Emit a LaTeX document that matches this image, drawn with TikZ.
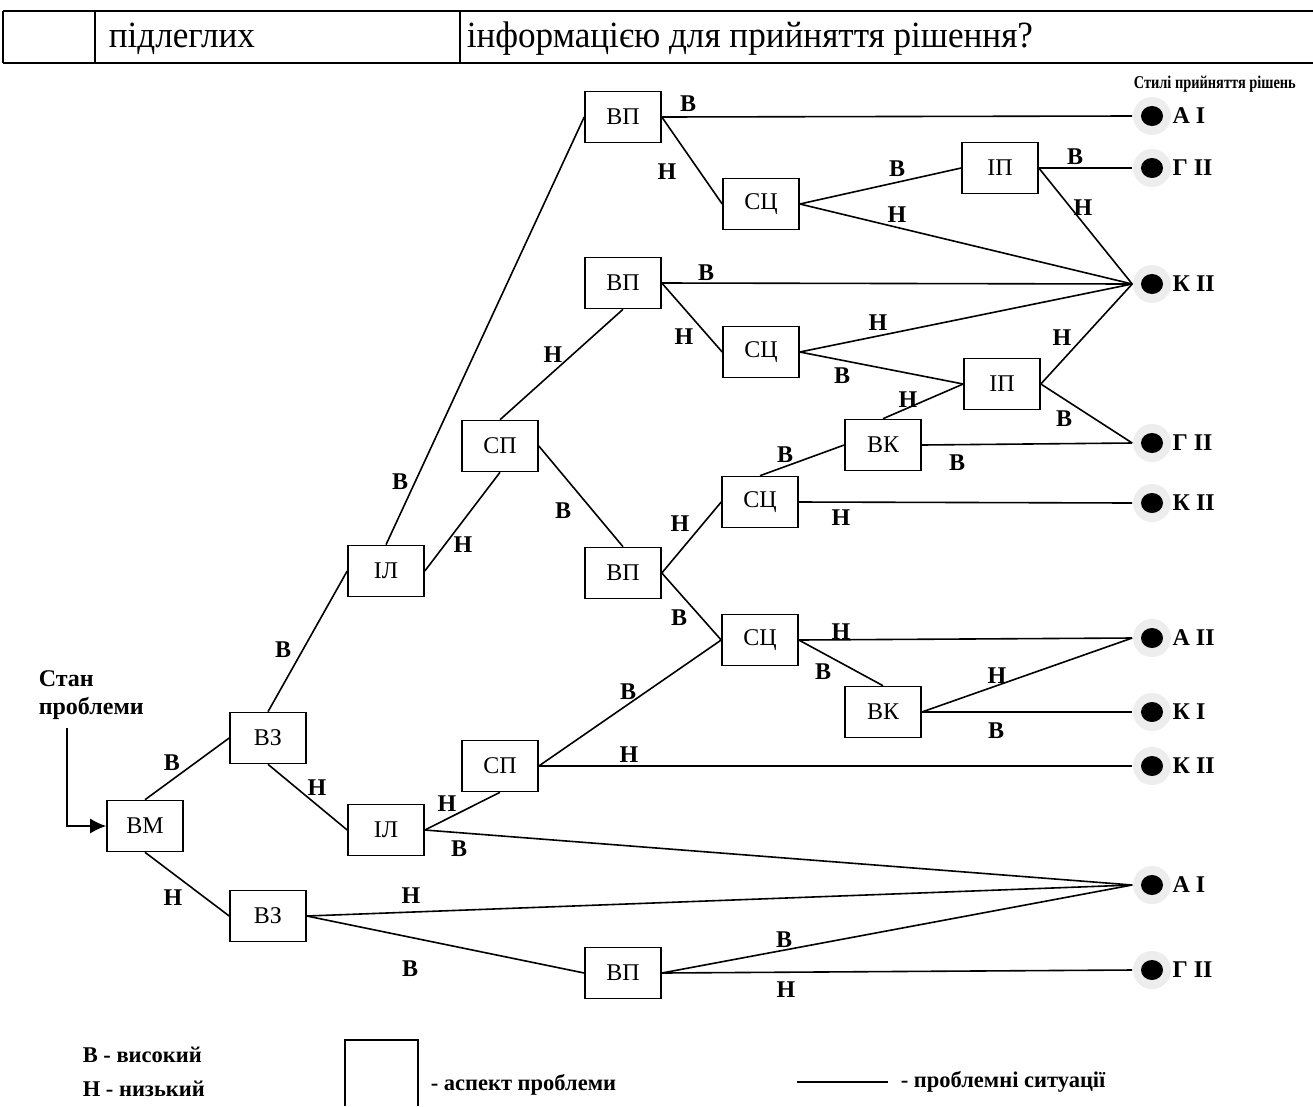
\documentclass[tikz,border=0pt]{standalone}
\usepackage{fontspec}
\setmainfont{Liberation Serif}
\newfontfamily\narrowfont{Liberation Serif}[FakeStretch=0.8]
\newfontfamily\cellfont{Liberation Serif}[FakeStretch=0.95]
\usetikzlibrary{arrows.meta}
\tikzset{
    x=1pt,
    y=-1pt,
    block/.style = {
        draw,
        shape=rectangle,
        minimum height=51pt,
        minimum width=76pt,
        inner sep=0pt,
        line width=1.6pt,
        font=\fontsize{24}{28}\selectfont
    },
    lbl/.style = {
        inner sep=0pt,
        font=\fontsize{24}{28}\bfseries\selectfont
    },
    outcome/.style = {
        shape=circle,
        fill=black!7,
        minimum size=38pt,
        inner sep=0pt,
        path picture={\fill[black] (path picture bounding box.center) ellipse (11pt and 10pt);}
    },
    endtext/.style = {
        inner sep=0pt,
        font=\fontsize{24}{28}\bfseries\selectfont
    },
    legtext/.style = {
        anchor=west,
        inner sep=0pt,
        font=\fontsize{22.5}{26}\bfseries\selectfont
    },
    celltext/.style = {
        anchor=base west,
        inner sep=0pt,
        font=\cellfont\fontsize{37}{42}\selectfont
    },
    edge/.style = {line width=1.6pt},
    >={Latex[length=16pt,width=15pt]},
}

\begin{document}
\begin{tikzpicture}[edge]
                \useasboundingbox (0,0) rectangle (1313,1106);

                % table row
                \path[draw, line width=2.5pt] (3,11) -- (1313,11);
                \path[draw, line width=2.5pt] (3,63) -- (1313,63);
                \path[draw, line width=2pt] (3,11) -- (3,63);
                \path[draw, line width=2pt] (95,11) -- (95,63);
                \path[draw, line width=2pt] (460,11) -- (460,63);
                \node[celltext] (cellb) at (108,47) {підлеглих};
                \node[celltext] (cellc) at (466,47) {інформацією для прийняття рішення?};

                \node[block] (vm) at (145,826) {ВМ};
                \node[block] (vz1) at (268,738) {ВЗ};
                \node[block] (vz2) at (268,916) {ВЗ};
                \node[block] (il1) at (386,571) {ІЛ};
                \node[block] (il2) at (386,830) {ІЛ};
                \node[block] (sp1) at (500,446) {СП};
                \node[block] (sp2) at (500,766) {СП};
                \node[block] (vp1) at (623,117) {ВП};
                \node[block] (vp2) at (623,283) {ВП};
                \node[block] (vp3) at (623,573) {ВП};
                \node[block] (vp4) at (623,973) {ВП};
                \node[block] (sc1) at (761,204) {СЦ};
                \node[block] (sc2) at (761,352) {СЦ};
                \node[block] (sc3) at (760,502) {СЦ};
                \node[block] (sc4) at (760,640) {СЦ};
                \node[block] (ip1) at (1000,168) {ІП};
                \node[block] (ip2) at (1002,384) {ІП};
                \node[block] (vk1) at (883,445) {ВК};
                \node[block] (vk2) at (883,712) {ВК};

                % decision styles
                \node[inner sep=0pt, anchor=west, font=\narrowfont\fontsize{18}{21}\bfseries\selectfont]
                (styles) at (1133,84) {Стилі прийняття рішень};
                \node[outcome, label={[endtext]east:А І}] (ai1) at (1152,116) {};
                \node[outcome, label={[endtext]east:Г ІІ}] (gii1) at (1152,168) {};
                \node[outcome, label={[endtext]east:К ІІ}] (kii1) at (1152,284) {};
                \node[outcome, label={[endtext]east:Г ІІ}] (gii2) at (1152,443) {};
                \node[outcome, label={[endtext]east:К ІІ}] (kii2) at (1152,503) {};
                \node[outcome, label={[endtext]east:А ІІ}] (aii) at (1152,638) {};
                \node[outcome, label={[endtext]east:К І}] (ki) at (1152,712) {};
                \node[outcome, label={[endtext]east:К ІІ}] (kii3) at (1152,766) {};
                \node[outcome, label={[endtext]east:А І}] (ai2) at (1152,885) {};
                \node[outcome, label={[endtext]east:Г ІІ}] (gii3) at (1152,970) {};

                \node[lbl, align=left, anchor=west] (stan) at (38,695) {Стан\\проблеми};
                \coordinate (start) at (67,728);
                \path[draw, ->] (start) |- (vm.west);

                \path[draw] (vm.north) -- (vz1.west);
                \path[draw] (vm.south) -- (vz2.west);
                \path[draw] (vz1.north) -- (il1.west);
                \path[draw] (vz1.south) -- (il2.west);
                \path[draw] (il1.north) -- (vp1.west);
                \path[draw] (il1.east) -- (sp1.south);
                \path[draw] (sp1.north) -- (vp2.south);
                \path[draw] (sp1.east) -- (vp3.north);
                \path[draw] (vp1.east) -- (ai1.west);
                \path[draw] (vp1.east) -- (sc1.west);
                \path[draw] (sc1.east) -- (ip1.west);
                \path[draw] (sc1.east) -- (kii1.west);
                \path[draw] (ip1.east) -- (gii1.west);
                \path[draw] (ip1.east) -- (kii1.west);
                \path[draw] (vp2.east) -- (kii1.west);
                \path[draw] (vp2.east) -- (sc2.west);
                \path[draw] (sc2.east) -- (kii1.west);
                \path[draw] (sc2.east) -- (ip2.west);
                \path[draw] (ip2.east) -- (kii1.west);
                \path[draw] (ip2.east) -- (gii2.west);
                \path[draw] (vk1.north) -- (ip2.west);
                \path[draw] (sc3.north) -- (vk1.west);
                \path[draw] (vk1.east) -- (gii2.west);
                \path[draw] (vp3.east) -- (sc3.west);
                \path[draw] (sc3.east) -- (kii2.west);
                \path[draw] (vp3.east) -- (sc4.west);
                \path[draw] (sc4.east) -- (aii.west);
                \path[draw] (sc4.east) -- (vk2.north);
                \path[draw] (vk2.east) -- (aii.west);
                \path[draw] (vk2.east) -- (ki.west);
                \path[draw] (sp2.east) -- (sc4.west);
                \path[draw] (sp2.east) -- (kii3.west);
                \path[draw] (il2.east) -- (sp2.south);
                \path[draw] (il2.east) -- (ai2.west);
                \path[draw] (vz2.east) -- (ai2.west);
                \path[draw] (vz2.east) -- (vp4.west);
                \path[draw] (vp4.east) -- (ai2.west);
                \path[draw] (vp4.east) -- (gii3.west);

                % high / low marks
                \node[lbl] (t1) at (172,763) {В};
                \node[lbl] (t2) at (173,898) {Н};
                \node[lbl] (t3) at (283,650) {В};
                \node[lbl] (t4) at (317,788) {Н};
                \node[lbl] (t5) at (400,482) {В};
                \node[lbl] (t6) at (463,545) {Н};
                \node[lbl] (t7) at (553,355) {Н};
                \node[lbl] (t8) at (563,511) {В};
                \node[lbl] (t9) at (688,104) {В};
                \node[lbl] (t10) at (667,172) {Н};
                \node[lbl] (t11) at (897,169) {В};
                \node[lbl] (t12) at (897,215) {Н};
                \node[lbl] (t13) at (1075,157) {В};
                \node[lbl] (t14) at (1083,208) {Н};
                \node[lbl] (t15) at (706,273) {В};
                \node[lbl] (t16) at (684,337) {Н};
                \node[lbl] (t17) at (878,323) {Н};
                \node[lbl] (t18) at (842,376) {В};
                \node[lbl] (t19) at (1062,338) {Н};
                \node[lbl] (t20) at (1064,419) {В};
                \node[lbl] (t21) at (908,400) {Н};
                \node[lbl] (t22) at (785,455) {В};
                \node[lbl] (t23) at (957,463) {В};
                \node[lbl] (t24) at (680,524) {Н};
                \node[lbl] (t25) at (841,518) {Н};
                \node[lbl] (t26) at (679,618) {В};
                \node[lbl] (t27) at (841,632) {Н};
                \node[lbl] (t28) at (823,672) {В};
                \node[lbl] (t29) at (997,676) {Н};
                \node[lbl] (t30) at (996,731) {В};
                \node[lbl] (t31) at (628,692) {В};
                \node[lbl] (t32) at (629,755) {Н};
                \node[lbl] (t33) at (447,804) {Н};
                \node[lbl] (t34) at (459,849) {В};
                \node[lbl] (t35) at (411,896) {Н};
                \node[lbl] (t36) at (410,969) {В};
                \node[lbl] (t37) at (784,940) {В};
                \node[lbl] (t38) at (786,990) {Н};

                % legend
                \node[legtext] (high) at (82,1055) {В - високий};
                \node[legtext] (low) at (82,1089) {Н - низький};
                \path[draw] (345,1106) |- (418,1040) -- (418,1106);
                \node[legtext] (aspect) at (430,1085) {- аспект проблеми};
                \coordinate (ls) at (797,1082);
                \coordinate (le) at (888,1082);
                \path[draw, line width=2.5pt] (ls) -- (le);
                \node[legtext] (situ) at (900,1082) {- проблемні ситуації};
            \end{tikzpicture}
\end{document}
